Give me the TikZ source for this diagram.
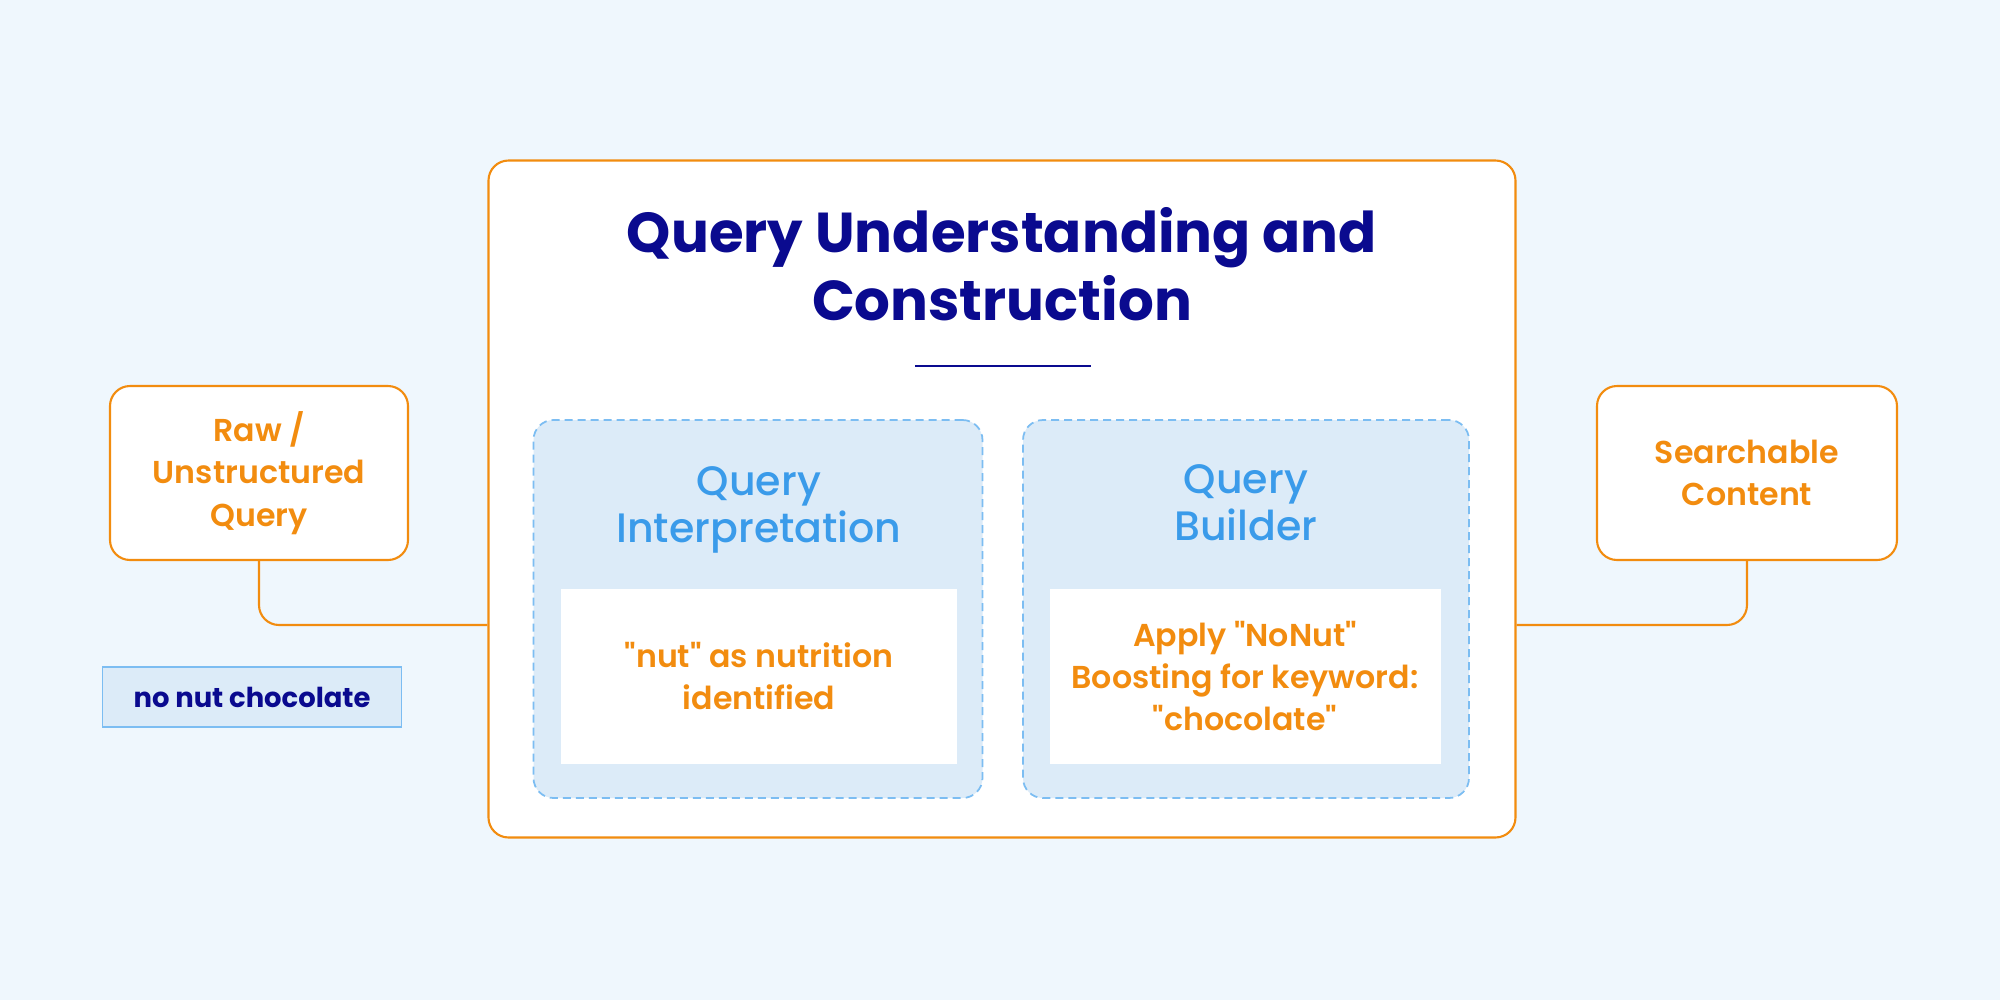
\documentclass[tikz,border=0pt]{standalone}
\usepackage{fontspec}
\setmainfont{Poppins}[BoldFont={Poppins SemiBold}, Ligatures=TeXOff]
\newfontfamily\titlefont{Poppins Bold}[Ligatures=TeXOff]
\newfontfamily\medfont{Poppins Medium}[Ligatures=TeXOff]
\newcommand{\dq}{\symbol{34}}
\usetikzlibrary{positioning}
\definecolor{bgblue}{HTML}{EFF7FD}
\definecolor{orng}{HTML}{F28C0F}
\definecolor{navy}{HTML}{0A0A8F}
\definecolor{skyblue}{HTML}{3A9BEA}
\definecolor{paleblue}{HTML}{DCEBF8}
\definecolor{dashblue}{HTML}{7CBDF2}
\begin{document}
\begin{tikzpicture}[
  x=0.1mm, y=-0.1mm,
  outerbox/.style={rectangle, rounded corners=2mm, draw=orng, fill=white, line width=0.6pt, inner sep=0pt},
  stagebox/.style={rectangle, rounded corners=2mm, draw=dashblue, fill=paleblue, line width=0.5pt, dash pattern=on 0.8mm off 0.5mm, minimum height=37.8mm, inner sep=0pt},
  notebox/.style={rectangle, fill=white, minimum height=17.5mm, inner sep=0pt},
  orangetext/.style={text=orng, align=center, font=\fontsize{9}{12}\selectfont\bfseries},
  stagetitle/.style={text=skyblue, align=center, font=\fontsize{11.7}{13.4}\selectfont\medfont},
  conn/.style={draw=orng, line width=0.6pt, rounded corners=2mm}
]
  \fill[bgblue] (0,0) rectangle (2000,1000);
  \useasboundingbox (0,0) rectangle (2000,1000);

  \node[outerbox, minimum width=102.7mm, minimum height=67.7mm] (qbox) at (1002,499) {};
  \node[outerbox, minimum width=29.8mm, minimum height=17.4mm, orangetext] (raw) at (259,473) {Raw /\\Unstructured\\Query};
  \node[outerbox, minimum width=30mm, minimum height=17.4mm, orangetext] (search) at (1747,473) {Searchable\\Content};
  \node[rectangle, draw=dashblue, fill=paleblue, line width=0.5pt, inner sep=0pt, minimum width=29.9mm, minimum height=6mm,
        text=navy, font=\fontsize{7.8}{10}\selectfont\titlefont] (example) at (252,697) {no nut chocolate};

  \node[text=navy, align=center, font=\fontsize{16}{19.4}\selectfont\titlefont] (title) at (1002,264) {Query Understanding and\\Construction};
  \coordinate (ulL) at (915,366);
  \coordinate (ulR) at (1091,366);
  \draw[navy, line width=0.6pt] (ulL) -- (ulR);

  \node[stagebox, minimum width=44.9mm] (interp) at (758,609) {};
  \node[stagebox, minimum width=44.6mm] (builder) at (1246,609) {};
  \node[stagetitle] (interpT) at (759,510) {Query\\Interpretation};
  \node[stagetitle] (builderT) at (1246,503) {Query\\Builder};
  \node[notebox, minimum width=39.6mm, orangetext] (interpN) at (759,676) {\dq nut\dq{} as nutrition\\identified};
  \node[notebox, minimum width=39.1mm, orangetext] (builderN) at (1245,676) {Apply \dq NoNut\dq\\Boosting for keyword:\\\dq chocolate\dq};

  \coordinate (inJ) at (qbox.west |- 0,625);
  \coordinate (outJ) at (qbox.east |- 0,625);
  \draw[conn] (raw.south) |- (inJ);
  \draw[conn] (outJ) -| (search.south);
\end{tikzpicture}
\end{document}
